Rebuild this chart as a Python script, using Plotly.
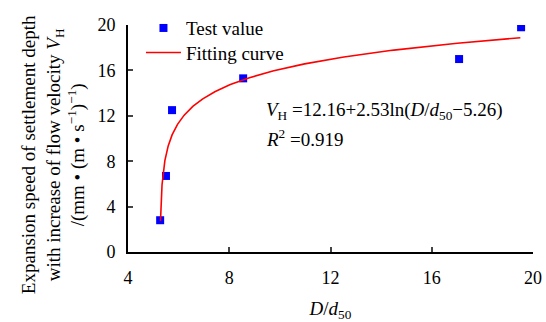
import numpy as np
import plotly.graph_objects as go

# Test values
d_ratio = [5.27, 5.50, 5.74, 8.55, 17.08, 19.53]
vh = [2.8, 6.7, 12.5, 15.3, 17.0, 19.8]

# Fitting curve parameters shown on the chart: V_H = a + b*ln(D/d50 - c)
fit_a, fit_b, fit_c = 12.16, 2.53, 5.26
fit_x_start, fit_x_end = 5.284, 19.5

x_ticks = [4, 8, 12, 16, 20]
y_ticks = [0, 4, 8, 12, 16, 20]

fx = fit_c + np.geomspace(fit_x_start - fit_c, fit_x_end - fit_c, 400)
fy = fit_a + fit_b * np.log(fx - fit_c)

FONT = "Liberation Serif"

fig = go.Figure()
fig.add_trace(go.Scatter(x=d_ratio, y=vh, mode="markers", name="Test value",
                         legend="legend",
                         marker=dict(symbol="square", size=8, color="#0000FF")))
fig.add_trace(go.Scatter(x=fx, y=fy, mode="lines", name="Fitting curve",
                         legend="legend2",
                         line=dict(color="#FF0000", width=1.6)))

leg_common = dict(xanchor="left", yanchor="top", bgcolor="rgba(0,0,0,0)",
                  font=dict(family=FONT, size=19), itemwidth=35)

fig.update_layout(
    width=546, height=322,
    margin=dict(l=128, r=13, t=25, b=70, autoexpand=False),
    plot_bgcolor="white", paper_bgcolor="white",
    font=dict(family=FONT, size=18, color="black"),
    showlegend=True,
    legend=dict(x=0.032, y=1.07, **leg_common),
    legend2=dict(x=0.032, y=0.962, **leg_common),
)
fig.update_xaxes(range=[4, 20], tickvals=x_ticks, ticks="inside", ticklen=5,
                 tickwidth=1.5, showline=True, linewidth=2, linecolor="black",
                 showgrid=False, zeroline=False, ticklabelstandoff=8,
                 automargin=False, tickfont=dict(family=FONT, size=18),
                 title=dict(text="<i>D</i>/<i>d</i><sub>50</sub>",
                            font=dict(family=FONT, size=19), standoff=24))
fig.update_yaxes(range=[0, 20], tickvals=y_ticks, ticks="inside", ticklen=5,
                 tickwidth=1.5, showline=True, linewidth=2, linecolor="black",
                 showgrid=False, zeroline=False, ticklabelstandoff=7,
                 automargin=False, tickfont=dict(family=FONT, size=18))

fig.add_annotation(
    text="Expansion speed of settlement depth<br>with increase of flow velocity <i>V</i><sub>H</sub><br>/(mm • (m • s<sup>−1</sup>)<sup>−1</sup>)",
    xref="paper", yref="paper", x=-0.185, y=0.427, textangle=-90,
    xanchor="center", yanchor="middle", showarrow=False,
    font=dict(family=FONT, size=19))
fig.add_annotation(
    text="<i>V</i><sub>H</sub> =12.16+2.53ln(<i>D</i>/<i>d</i><sub>50</sub>−5.26)",
    xref="paper", yref="paper", x=0.337, y=0.621, xanchor="left", yanchor="middle",
    showarrow=False, font=dict(family=FONT, size=19))
fig.add_annotation(
    text="<i>R</i><sup>2</sup> =0.919",
    xref="paper", yref="paper", x=0.337, y=0.503, xanchor="left", yanchor="middle",
    showarrow=False, font=dict(family=FONT, size=19))

fig.write_html("out.html", config={"displayModeBar": False},
               post_script="document.body.style.margin='0';")
